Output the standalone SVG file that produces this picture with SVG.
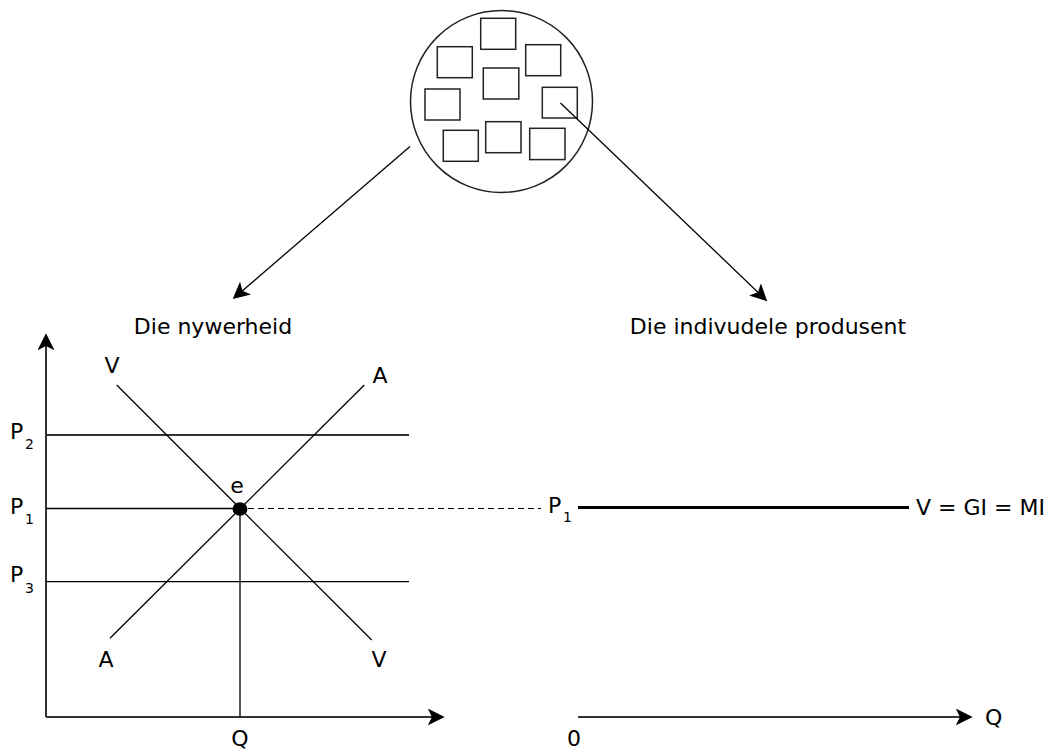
<svg xmlns="http://www.w3.org/2000/svg" width="1048" height="754" viewBox="0 0 1048 754">
<style>
text{font-family:"DejaVu Sans","Liberation Sans",sans-serif;font-size:22px;fill:#000}
.sub{font-size:14px}
.ln{stroke:#000;stroke-width:1.3;fill:none}
.ax{stroke:#333;stroke-width:2;fill:none}
.sq{fill:#fff;stroke:#222;stroke-width:1.5}
</style>
<defs>
<marker id="ah2" viewBox="0 0 10 10" refX="9" refY="5" markerWidth="17" markerHeight="17" markerUnits="userSpaceOnUse" orient="auto"><path d="M0,0 L10,5 L0,10 L2.5,5 z" fill="#000"/></marker>
</defs>
<rect width="1048" height="754" fill="#fff"/>
<g id="market">
<circle cx="501.5" cy="101.5" r="91" fill="#fff" stroke="#222" stroke-width="1.5"/>
<rect class="sq" x="480.7" y="18.3" width="35" height="31"/>
<rect class="sq" x="437.3" y="46.7" width="35" height="31"/>
<rect class="sq" x="525.7" y="44.7" width="35" height="31"/>
<rect class="sq" x="483.3" y="68" width="35.5" height="31"/>
<rect class="sq" x="425" y="89" width="35" height="31"/>
<rect class="sq" x="542.3" y="87.3" width="35" height="30.7"/>
<rect class="sq" x="443.3" y="130.3" width="35" height="31"/>
<rect class="sq" x="485.7" y="121.7" width="35.3" height="31"/>
<rect class="sq" x="529.7" y="128.3" width="35.3" height="31.3"/>
</g>
<g id="connectors">
<line class="ln" x1="410" y1="146.5" x2="234" y2="298" marker-end="url(#ah2)"/>
<line class="ln" x1="560.5" y1="103" x2="766" y2="300" marker-end="url(#ah2)"/>
<line x1="248" y1="508.5" x2="541" y2="508.5" stroke="#000" stroke-width="1" stroke-dasharray="6,4"/>
</g>
<g id="labels">
<text x="213" y="334" text-anchor="middle">Die nywerheid</text>
<text x="768" y="334" text-anchor="middle">Die indivudele produsent</text>
</g>
<g id="industry">
<line class="ax" x1="46" y1="717" x2="46" y2="335" marker-end="url(#ah2)"/>
<line class="ax" x1="46" y1="717" x2="443" y2="717" marker-end="url(#ah2)"/>
<line class="ax" x1="46" y1="435" x2="409" y2="435" stroke-width="1.6"/>
<line class="ln" x1="46" y1="508.5" x2="240" y2="508.5"/>
<line class="ln" x1="46" y1="581.7" x2="409" y2="581.7"/>
<line class="ln" x1="240" y1="508.5" x2="240" y2="717"/>
<line class="ln" x1="116.7" y1="385" x2="371.7" y2="640"/>
<line class="ln" x1="110" y1="638.3" x2="364.3" y2="385"/>
<ellipse cx="240" cy="509" rx="7.5" ry="6.7" fill="#000"/>
<text x="112" y="373" text-anchor="middle">V</text>
<text x="380" y="383" text-anchor="middle">A</text>
<text x="106" y="667" text-anchor="middle">A</text>
<text x="379" y="667" text-anchor="middle">V</text>
<text x="237" y="493" text-anchor="middle">e</text>
<text x="10" y="439">P</text><text class="sub" x="25" y="449">2</text>
<text x="10" y="514">P</text><text class="sub" x="25" y="524">1</text>
<text x="10" y="582">P</text><text class="sub" x="25" y="593">3</text>
<text x="240" y="746" text-anchor="middle">Q</text>
</g>
<g id="producer">
<line x1="578" y1="507.5" x2="909" y2="507.5" stroke="#000" stroke-width="3"/>
<text x="548" y="513">P</text><text class="sub" x="563" y="522">1</text>
<text x="916" y="515">V = GI = MI</text>
<line class="ax" x1="578" y1="717" x2="971" y2="717" marker-end="url(#ah2)"/>
<text x="985" y="725">Q</text>
<text x="574" y="746" text-anchor="middle">0</text>
</g>
</svg>
